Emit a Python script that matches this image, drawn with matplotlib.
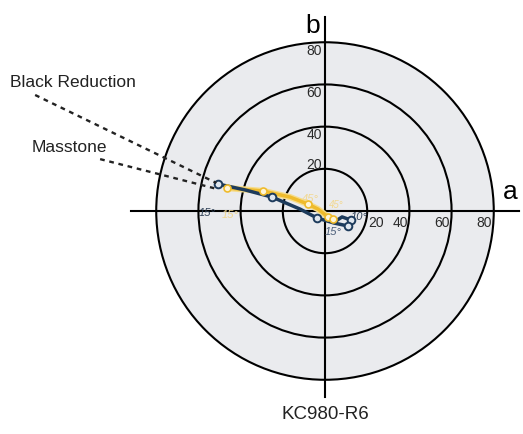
import matplotlib
matplotlib.use('Agg')
import matplotlib.pyplot as plt
from matplotlib.patches import Circle

plt.rcParams['font.family'] = ['Liberation Sans', 'DejaVu Sans']

# CIELAB a*/b* readings
rings = [20, 40, 60, 80]
black_a = [-50.7, -37.9, -25.1, -11.8, -3.8, 4.3, 10.9, 12.3, 8.1, 5.2]
black_b = [12.8, 10.0, 6.6, 0.9, -3.3, -5.7, -7.1, -4.3, -2.8, -4.7]
black_mark = [0, 2, 4, 7, 6]
mass_a = [-46.4, -29.4, -16.6, -8.1, -3.3, 1.4, 3.8]
mass_b = [10.9, 9.5, 6.6, 3.3, 0.9, -2.8, -3.8]
mass_mark = [0, 1, 3, 5, 6]

navy = '#1d3b5c'
gold = '#efbb2c'

fig = plt.figure(figsize=(5.23, 4.35), dpi=100)
ax = fig.add_axes([0, 0, 1, 1])
ax.set_xlim(-154.0, 93.8)
ax.set_ylim(-105.7, 100.5)
ax.set_aspect('equal')
ax.axis('off')

# grey disc + rings
ax.add_patch(Circle((0, 0), rings[-1], facecolor='#eaebee', edgecolor='none', zorder=0))
for r in rings:
    ax.add_patch(Circle((0, 0), r, facecolor='none', edgecolor='black', lw=1.5, zorder=1))

# axes
ax.plot([-92, 92], [0, 0], color='black', lw=1.5, zorder=2)
ax.plot([0, 0], [-88, 92], color='black', lw=1.5, zorder=2)
ax.text(91.5, 4, 'a', fontsize=19, ha='right', va='bottom')
ax.text(-2.5, 88, 'b', fontsize=19, ha='right', va='center')

# tick labels
for r in rings:
    if r == 20:
        ax.text(-1.5, r + 2.5, str(r), fontsize=10, ha='right', va='center', color='#2a2a2a')
        ax.text(r + 0.5, -5, str(r), fontsize=10, ha='left', va='center', color='#2a2a2a')
    else:
        ax.text(-1.5, r - 3.5, str(r), fontsize=10, ha='right', va='center', color='#2a2a2a')
        ax.text(r - 4.5, -5, str(r), fontsize=10, ha='center', va='center', color='#2a2a2a')

# series
ax.plot(mass_a, mass_b, color='#f6dc8a', lw=4.5, solid_capstyle='round', zorder=3)
ax.plot(mass_a, mass_b, color=gold, lw=2.5, solid_capstyle='round', zorder=4)
ax.plot([mass_a[i] for i in mass_mark], [mass_b[i] for i in mass_mark], 'o', ms=5,
        mfc='#fff6d8', mec=gold, mew=1.2, zorder=6)
ax.plot(black_a, black_b, color=navy, lw=2.5, solid_capstyle='round', zorder=5)
ax.plot([black_a[i] for i in black_mark], [black_b[i] for i in black_mark], 'o', ms=5.5,
        mfc='#dfe6ee', mec=navy, mew=1.4, zorder=7)

# angle notes
ax.text(-56, -0.5, '15°', fontsize=8, style='italic', color='#2d3f55', ha='center', va='center')
ax.text(-45, -1.5, '15°', fontsize=8, style='italic', color='#f2d890', ha='center', va='center')
ax.text(-7, 6, '45°', fontsize=8, style='italic', color='#f2d890', ha='center', va='center')
ax.text(2, 3.5, '45°', fontsize=7, style='italic', color='#f2d890', ha='left', va='center')
ax.text(16, -2.5, '10°', fontsize=8, style='italic', color='#2d3f55', ha='center', va='center')
ax.text(4, -9.5, '15°', fontsize=8, style='italic', color='#4a5d78', ha='center', va='center')

# callouts
ax.text(-149.5, 61.5, 'Black Reduction', fontsize=12.5, ha='left', va='center', color='#222222')
ax.plot([-137.4, -51.5], [55.0, 13.3], ls=(0, (2, 2)), color='#222222', lw=1.7, zorder=8)
ax.text(-139.0, 30.5, 'Masstone', fontsize=12.5, ha='left', va='center', color='#222222')
ax.plot([-106.6, -52.5], [24.6, 10.8], ls=(0, (2, 2)), color='#222222', lw=1.7, zorder=8)

ax.text(0, -96, 'KC980-R6', fontsize=13.5, ha='center', va='center', color='#222222')

fig.savefig('out.png', dpi=100)
